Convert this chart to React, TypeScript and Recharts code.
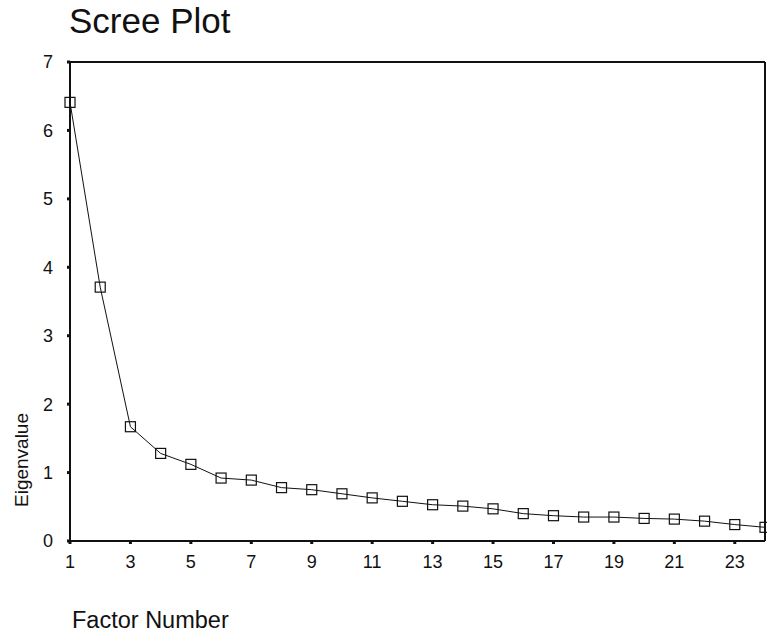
import { LineChart, Line, XAxis, YAxis, ReferenceLine } from "recharts";

// eigenvalues
const factors = [1, 2, 3, 4, 5, 6, 7, 8, 9, 10, 11, 12, 13, 14, 15, 16, 17, 18, 19, 20, 21, 22, 23, 24];
const eigenvalues = [
  6.41, 3.71, 1.67, 1.28, 1.12, 0.92, 0.89, 0.78, 0.75, 0.69, 0.63, 0.58,
  0.53, 0.51, 0.47, 0.4, 0.37, 0.35, 0.35, 0.33, 0.32, 0.29, 0.24, 0.2,
];
const xTicks = [1, 3, 5, 7, 9, 11, 13, 15, 17, 19, 21, 23];
const yTicks = [0, 1, 2, 3, 4, 5, 6, 7];

const data = factors.map((f, i) => ({ factor: f, value: eigenvalues[i] }));

const FONT = "Arial, 'Liberation Sans', Helvetica, sans-serif";
const INK = "#111";

function SquareDot(props: any) {
  const { cx, cy, index } = props;
  if (cx == null || cy == null) return <g key={index} />;
  return (
    <rect
      key={index}
      x={cx - 5}
      y={cy - 5}
      width={10}
      height={10}
      fill="none"
      stroke={INK}
      strokeWidth={1.2}
    />
  );
}

export default function App() {
  const tick = { fontSize: 18, fill: INK, fontFamily: FONT };
  return (
    <div style={{ position: "absolute", left: 0, top: 0, width: 767, height: 634, background: "#fff" }}>
      <LineChart width={767} height={634} data={data} margin={{ top: 62, right: 2, bottom: 0, left: 0 }}>
        <XAxis
          dataKey="factor"
          type="number"
          domain={[1, 24]}
          ticks={xTicks}
          interval={0}
          height={93}
          tick={tick}
          tickSize={3}
          tickMargin={11}
          axisLine={{ stroke: INK, strokeWidth: 2 }}
          tickLine={{ stroke: INK, strokeWidth: 3 }}
        />
        <YAxis
          domain={[0, 7]}
          ticks={yTicks}
          interval={0}
          width={70}
          tick={tick}
          tickSize={3}
          tickMargin={14}
          axisLine={{ stroke: INK, strokeWidth: 2 }}
          tickLine={{ stroke: INK, strokeWidth: 3 }}
        />
        <ReferenceLine y={7} stroke={INK} strokeWidth={2} />
        <ReferenceLine x={24} stroke={INK} strokeWidth={2} />
        <Line
          dataKey="value"
          type="linear"
          stroke={INK}
          strokeWidth={1}
          dot={SquareDot}
          activeDot={false}
          isAnimationActive={false}
        />
      </LineChart>
      <svg
        width={767}
        height={634}
        style={{ position: "absolute", left: 0, top: 0, pointerEvents: "none" }}
      >
        <text x={69} y={33} fontSize={35} fontFamily={FONT} fill={INK}>
          Scree Plot
        </text>
        <text
          x={28}
          y={460}
          fontSize={19}
          fontFamily={FONT}
          fill={INK}
          textAnchor="middle"
          transform="rotate(-90 28 460)"
        >
          Eigenvalue
        </text>
        <text x={72} y={628} fontSize={23.5} fontFamily={FONT} fill={INK}>
          Factor Number
        </text>
      </svg>
    </div>
  );
}
